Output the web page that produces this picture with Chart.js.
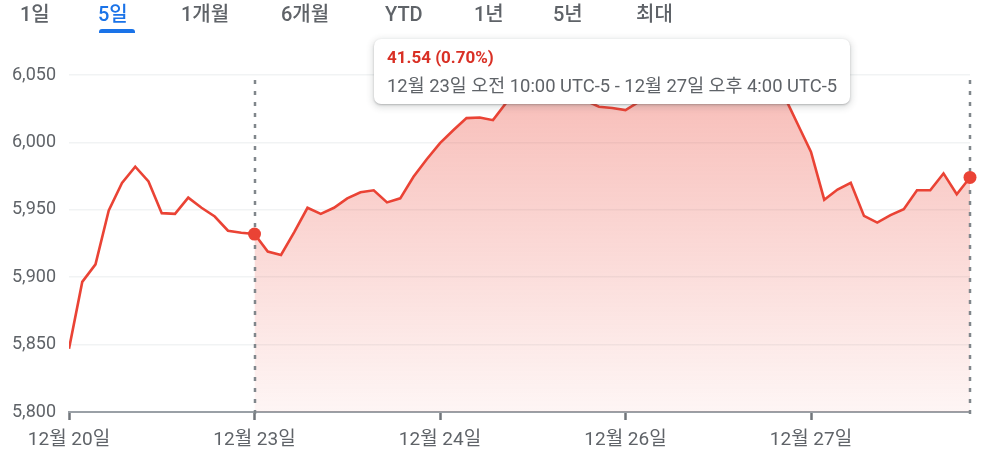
<!DOCTYPE html>
<html>
<head>
<meta charset="utf-8">
<script src="https://cdn.jsdelivr.net/npm/chart.js@4.4.1/dist/chart.umd.min.js"></script>
<style>
  html, body { margin:0; padding:0; background:#fff; }
  body { width:985px; height:456px; position:relative; overflow:hidden; font-family: Roboto, "Noto Sans CJK KR", sans-serif; }
  #c { position:absolute; left:0; top:0; }
  .tab { position:absolute; top:1px; font-size:20px; font-weight:500; color:#5f6368; white-space:nowrap; line-height:26px; }
  .tab.active { color:#1a73e8; }
  #ul { position:absolute; left:99px; top:29px; width:36px; height:4px; background:#1a73e8; border-radius:3px 3px 0 0; }
  #tip { position:absolute; left:374px; top:39px; width:476px; height:65px; background:#fff; border-radius:7px;
         box-shadow: 0 1px 2px rgba(60,64,67,.3), 0 2px 6px 2px rgba(60,64,67,.15); box-sizing:border-box; }
  #tip1 { position:absolute; left:13px; top:8px; font-size:17px; font-weight:700; color:#d93025; white-space:nowrap; }
  #tip2 { position:absolute; left:13px; top:32px; font-size:18.4px; color:#5f6368; white-space:nowrap; }
</style>
</head>
<body>
<canvas id="c" width="985" height="456"></canvas>
<div id="tabs"></div>
<div id="ul"></div>
<div id="tip"><div id="tip1"></div><div id="tip2"></div></div>
<script>
// ---- data ----
const tabLabels = ["1일", "5일", "1개월", "6개월", "YTD", "1년", "5년", "최대"];
const tabX = [20, 98, 181, 281, 385, 474, 553, 636];
const activeTab = 1;

const dayLabels = ["12월 20일", "12월 23일", "12월 24일", "12월 26일", "12월 27일"];
const dayTickIndex = [0, 14, 28, 42, 56];

const prices = [
  5847, 5896.5, 5909.5, 5949.5, 5970, 5982, 5971, 5947.5, 5947, 5959, 5951.5, 5945, 5934.5, 5933,
  5932, 5919, 5916.5, 5933.5, 5951.5, 5947, 5951.5, 5958.5, 5963, 5964.5, 5955.5, 5958.5, 5974.5, 5987.5,
  5999.5, 6009, 6018, 6018.5, 6016.5, 6029.5, 6036, 6039, 6041, 6042, 6040, 6031, 6026.5, 6025.5,
  6024, 6030, 6033, 6036, 6038, 6040, 6042, 6041, 6043, 6044, 6041, 6039, 6034, 6013.5,
  5993, 5957.5, 5965, 5970, 5945.5, 5940.5, 5946, 5950.5, 5964.5, 5964.5, 5977, 5961.5, 5974
];
const rangeStart = 14;
const rangeEnd = 68;
const yTicks = [5800, 5850, 5900, 5950, 6000, 6050];
const tipChange = "41.54 (0.70%)";
const tipRange = "12월 23일 오전 10:00 UTC-5 - 12월 27일 오후 4:00 UTC-5";

// ---- page text ----
const tabs = document.getElementById('tabs');
tabLabels.forEach((t, i) => {
  const d = document.createElement('div');
  d.className = 'tab' + (i === activeTab ? ' active' : '');
  d.style.left = tabX[i] + 'px';
  d.textContent = t;
  tabs.appendChild(d);
});
document.getElementById('tip1').textContent = tipChange;
document.getElementById('tip2').textContent = tipRange;

const RED = '#ea4335';
const pts = prices.map((v, i) => ({x: i, y: v}));
const fillPts = prices.map((v, i) => ({x: i, y: (i >= rangeStart && i <= rangeEnd) ? v : null}));

const dotLines = {
  id: 'dotLines',
  afterDatasetsDraw(chart) {
    const {ctx, chartArea, scales} = chart;
    ctx.save();
    ctx.strokeStyle = '#80868b';
    ctx.lineWidth = 2.5;
    ctx.setLineDash([4, 7]);
    [rangeStart, rangeEnd].forEach(i => {
      const x = Math.round(scales.x.getPixelForValue(i));
      ctx.beginPath();
      ctx.moveTo(x, chartArea.top + 5);
      ctx.lineTo(x, chartArea.bottom + 2);
      ctx.stroke();
    });
    ctx.restore();
    ctx.save();
    ctx.fillStyle = RED;
    [rangeStart, rangeEnd].forEach(i => {
      const x = scales.x.getPixelForValue(i), y = scales.y.getPixelForValue(prices[i]);
      ctx.beginPath(); ctx.arc(x, y, 6.5, 0, Math.PI * 2); ctx.fill();
    });
    ctx.restore();
  }
};

new Chart(document.getElementById('c'), {
  type: 'line',
  data: {
    datasets: [
      { data: pts, borderColor: RED, borderWidth: 2.6, pointRadius: 0, tension: 0, order: 0, fill: false },
      { data: fillPts, borderWidth: 0, pointRadius: 0, order: 1, spanGaps: false, fill: 'start',
        backgroundColor: (c) => {
          const a = c.chart.chartArea;
          if (!a) return 'rgba(234,67,53,0.2)';
          const g = c.chart.ctx.createLinearGradient(0, a.top, 0, a.bottom);
          g.addColorStop(0, 'rgba(234,67,53,0.36)');
          g.addColorStop(1, 'rgba(234,67,53,0.05)');
          return g;
        } }
    ]
  },
  options: {
    responsive: false,
    animation: false,
    devicePixelRatio: 1,
    layout: { padding: { top: 75, right: 15, left: 0, bottom: 0 } },
    plugins: { legend: { display: false }, tooltip: { enabled: false } },
    scales: {
      x: {
        type: 'linear', min: 0, max: prices.length - 1,
        afterBuildTicks: (s) => { s.ticks = dayTickIndex.map(v => ({ value: v })); },
        afterFit: (s) => { s.height = 44; },
        ticks: {
          autoSkip: false, maxRotation: 0, padding: 9,
          callback: (v) => { const k = dayTickIndex.indexOf(v); return k >= 0 ? dayLabels[k] : ''; },
          font: { family: 'Roboto, "Noto Sans CJK KR"', size: 19 }, color: '#5f6368'
        },
        grid: { drawOnChartArea: false, drawTicks: true, tickLength: 8, tickWidth: 2.5, tickColor: '#70757a' },
        border: { display: true, color: '#9aa0a6', width: 2 }
      },
      y: {
        min: 5800, max: 6050,
        afterBuildTicks: (s) => { s.ticks = yTicks.map(v => ({ value: v })); },
        afterFit: (s) => { s.width = 69; },
        ticks: {
          padding: 13,
          callback: (v) => v.toLocaleString('en-US'),
          font: { family: 'Roboto', size: 18 }, color: '#5f6368'
        },
        grid: { color: '#f1f3f4', lineWidth: 1.5, drawTicks: false },
        border: { display: false }
      }
    }
  },
  plugins: [dotLines]
});
</script>
</body>
</html>
